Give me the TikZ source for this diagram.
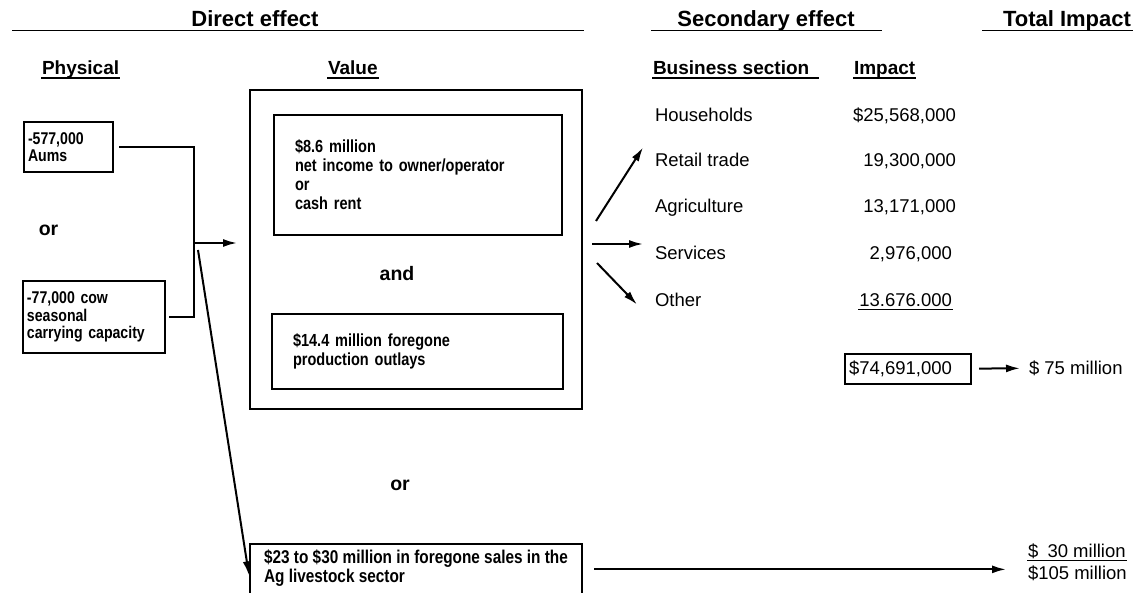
\documentclass[tikz,border=0pt]{standalone}
\usepackage{fontspec}
\setmainfont{Liberation Sans}
\newfontfamily\narrowsans{Liberation Sans}[FakeStretch=0.83]
\usepackage{tikz}
\usetikzlibrary{arrows.meta,positioning}
\tikzstyle{effectChart} = [
  x=1pt, y=-1pt,
  line width=2pt,
  >={Latex[length=14pt,width=8pt]},
  every node/.style = {inner sep=0pt},
  ]
\tikzstyle{heading} = [font=\fontsize{22}{26}\selectfont\bfseries, anchor=base]
\tikzstyle{subHeading} = [font=\fontsize{19}{22}\selectfont\bfseries, anchor=base west]
\tikzstyle{joinWord} = [font=\fontsize{19.5}{22}\selectfont\bfseries]
\tikzstyle{sector} = [font=\fontsize{18.5}{22}\selectfont, anchor=base west]
\tikzstyle{amount} = [font=\fontsize{18.5}{22}\selectfont, anchor=base east]
\tikzstyle{physBox} = [draw, line width=2pt, align=left, inner xsep=4pt,
  font=\narrowsans\fontsize{17}{17.5}\selectfont\bfseries]
\tikzstyle{valueBox} = [draw, line width=2pt, align=left, inner xsep=21pt,
  font=\narrowsans\fontsize{17.5}{19}\selectfont\bfseries]
\tikzstyle{underRule} = [line width=1.7pt]

\begin{document}
\begin{tikzpicture}[effectChart]
  \useasboundingbox (0,0) rectangle (1133,593);

  % headings
  \node[heading] (directHead) at (255,27) {Direct effect};
  \node[heading] (secondHead) at (766,27) {Secondary effect};
  \node[heading, anchor=base west] (totalHead) at (1002,27) {Total Impact};
  \draw[underRule] (12,30.5) -- (584,30.5);
  \draw[underRule] (651,30.5) -- (882,30.5);
  \draw[underRule] (982,30.5) -- (1140,30.5);

  \node[subHeading] (phys) at (41,75) {Physical};
  \node[subHeading] (val) at (327,75) {Value};
  \node[subHeading] (bus) at (652,75) {Business section};
  \node[subHeading] (imp) at (853,75) {Impact};

  % physical
  \node[physBox, text width=81pt, minimum height=50pt] (aums) at (68.5,147)
    {-577,000\\Aums};
  \node[joinWord] (orPhys) at (48.5,230) {or};
  \node[physBox, text width=134pt, minimum height=72pt] (cows) at (94,317)
    {-77,000 cow\\seasonal\\carrying capacity};

  % value
  \node[draw, line width=2pt, minimum width=332pt, minimum height=319pt] (outer) at (416,249.5) {};
  \node[valueBox, text width=246pt, minimum height=120pt] (income) at (418,175)
    {\$8.6 million\\net income to owner/operator\\or\\cash rent};
  \node[joinWord] (and) at (397,274) {and};
  \node[valueBox, text width=249pt, minimum height=75pt] (outlay) at (417.5,351.5)
    {\$14.4 million foregone\\production outlays};
  \node[joinWord] (orValue) at (400,485) {or};
  \node[valueBox, anchor=north, font=\narrowsans\fontsize{18.5}{19}\selectfont\bfseries,
    minimum width=332pt, inner xsep=6pt, inner ysep=6pt, text depth=30pt] (sales) at (416,543)
    {\$23 to \$30 million in foregone sales in the\\Ag livestock sector};

  \coordinate (fork) at (194,243);
  \draw ([xshift=5pt]aums.east) -| (fork) |- ([xshift=3pt]cows.east);
  \draw[->, shorten >=12pt] (fork) -- (fork -| outer.west);
  \draw[->] ([shift={(4pt,-7pt)}]fork) -- ([yshift=6pt]sales.west);

  % secondary
  \node[sector] (house) at (654,121.5) {Households};
  \node[sector] (retail) at (654,166.5) {Retail trade};
  \node[sector] (agri) at (654,212.5) {Agriculture};
  \node[sector] (serv) at (654,259.5) {Services};
  \node[sector] (other) at (654,306.5) {Other};
  \node[amount] (houseAmt) at (957,121.5) {\$25,568,000};
  \node[amount] (retailAmt) at (957,166.5) {19,300,000};
  \node[amount] (agriAmt) at (957,212.5) {13,171,000};
  \node[amount] (servAmt) at (953,259.5) {2,976,000};
  \node[amount] (othAmt) at (953,306.5) {13.676.000};

  \coordinate (upFork) at (596,221);
  \coordinate (midFork) at (592,244);
  \coordinate (lowFork) at (597,263);
  \draw[->] (upFork) -- ([shift={(-11pt,19pt)}]retail.base west);
  \draw[->, shorten >=11pt] (midFork) -- (midFork -| serv.west);
  \draw[->] (lowFork) -- ([shift={(-17pt,2pt)}]other.base west);

  \node[draw, line width=2pt, font=\fontsize{18.5}{22}\selectfont, text width=118pt,
    inner xsep=4pt, align=left, minimum height=30pt] (sumBox) at (908,369) {\$74,691,000};

  % total impact
  \node[sector, anchor=west] (t75) at (1028,368) {\$ 75 million};
  \draw[->, shorten <=7pt, shorten >=8pt] (sumBox) -- (t75);
  \node[sector] (t30) at (1027,557.5) {\$\enspace30 million};
  \node[sector] (t105) at (1027,579.5) {\$105 million};
  \coordinate (salesOut) at ([yshift=12pt]sales.east);
  \draw[->, shorten <=11pt, shorten >=21pt] (salesOut) -- (salesOut -| t30.west);

  \foreach \n in {phys,val,imp,othAmt,t30}
    \draw[underRule] ([yshift=-3pt]\n.base west) -- ([yshift=-3pt]\n.base east);
  \draw[underRule] ([yshift=-3pt]bus.base west) -- ([xshift=9pt,yshift=-3pt]bus.base east);
\end{tikzpicture}
\end{document}
